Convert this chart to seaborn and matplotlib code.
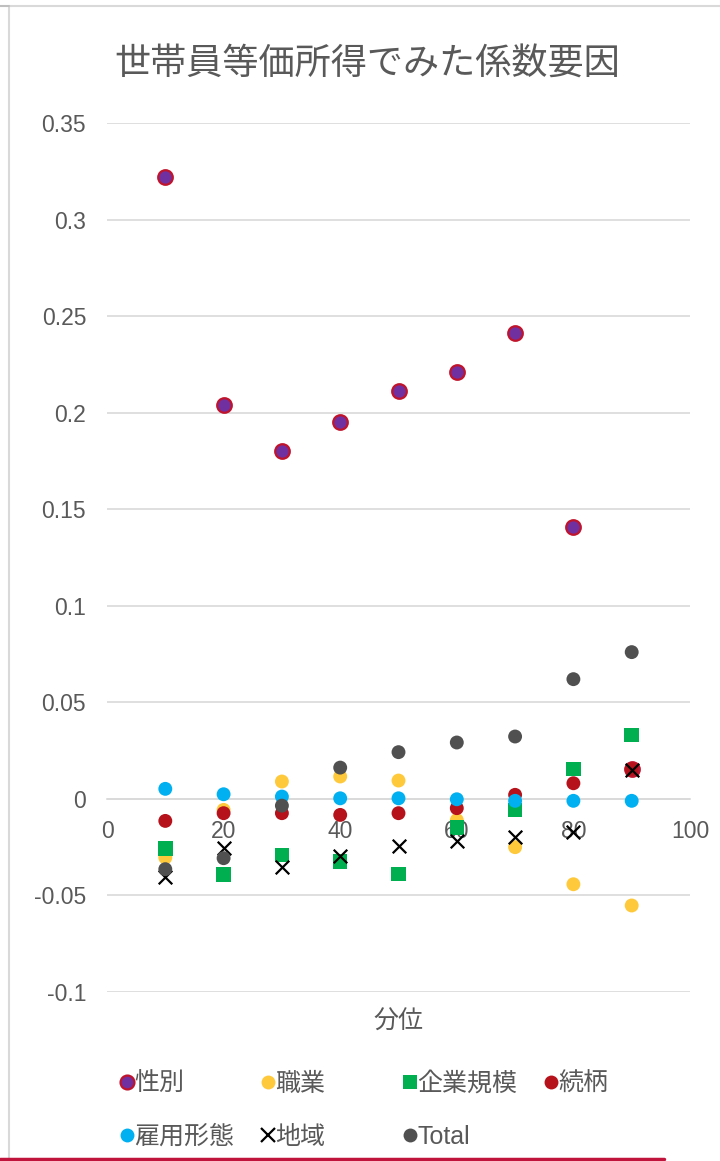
import matplotlib
matplotlib.use("Agg")
import matplotlib.pyplot as plt
from matplotlib.lines import Line2D
from matplotlib.ticker import FuncFormatter, MultipleLocator
import seaborn as sns
import pandas as pd

# ---- data -------------------------------------------------------------
deciles = [10, 20, 30, 40, 50, 60, 70, 80, 90]
gender = [0.322, 0.204, 0.180, 0.195, 0.211, 0.221, 0.241, 0.141, 0.0155]
occupation = [-0.0304, -0.0057, 0.0090, 0.0116, 0.0095, -0.0110, -0.0250, -0.0442, -0.0552]
firm_size = [-0.0257, -0.0393, -0.0290, -0.0324, -0.0390, -0.0148, -0.0057, 0.0155, 0.0331]
relation = [-0.0114, -0.0074, -0.0074, -0.0083, -0.0074, -0.0048, 0.0021, 0.0081, 0.0154]
employment = [0.0052, 0.0024, 0.0012, 0.0003, 0.0003, -0.0002, -0.0010, -0.0010, -0.0010]
region = [-0.0402, -0.0255, -0.0354, -0.0295, -0.0242, -0.0217, -0.0195, -0.0174, 0.0150]
total = [-0.0364, -0.0307, -0.0035, 0.0162, 0.0242, 0.0292, 0.0323, 0.0620, 0.0760]

series_names = ["性別", "職業", "企業規模", "続柄", "雇用形態", "地域", "Total"]
series_values = [gender, occupation, firm_size, relation, employment, region, total]

x_ticks = [0, 20, 40, 60, 80, 100]
title = "世帯員等価所得でみた係数要因"
x_label = "分位"

# ---- styles -----------------------------------------------------------
styles = {
    "性別": dict(marker="o", face="#7030A0", edge="#C0142C", s=110, lw=1.6, ms=10),
    "職業": dict(marker="o", face="#FFC93C", edge="none", s=100, lw=0, ms=10),
    "企業規模": dict(marker="s", face="#00B050", edge="none", s=110, lw=0, ms=10),
    "続柄": dict(marker="o", face="#B5121B", edge="none", s=100, lw=0, ms=10),
    "雇用形態": dict(marker="o", face="#00B0F0", edge="none", s=100, lw=0, ms=10),
    "地域": dict(marker="x", face="#000000", edge="#000000", s=95, lw=1.6, ms=9.5),
    "Total": dict(marker="o", face="#505050", edge="none", s=100, lw=0, ms=10),
}

text_color = "#595959"
grid_color = "#D9D9D9"

sns.set_theme(style="white")
plt.rcParams["font.family"] = ["Liberation Sans", "Noto Sans CJK JP", "DejaVu Sans"]

W, H = 720, 1161
fig = plt.figure(figsize=(W / 100, H / 100), dpi=100)
ax = fig.add_axes([107 / W, 1 - 992 / H, (690 - 107) / W, (992 - 123) / H])

df = pd.DataFrame(
    [(n, x, v) for n, vals in zip(series_names, series_values) for x, v in zip(deciles, vals)],
    columns=["要因", "分位", "係数"],
)

for i, name in enumerate(series_names):
    st = styles[name]
    sub = df[df["要因"] == name]
    if st["marker"] == "x":
        sns.scatterplot(data=sub, x="分位", y="係数", ax=ax, marker="x",
                        color=st["face"], s=st["s"], linewidth=st["lw"],
                        legend=False, zorder=3 + i)
    else:
        sns.scatterplot(data=sub, x="分位", y="係数", ax=ax, marker=st["marker"],
                        color=st["face"], edgecolor=st["edge"], s=st["s"],
                        linewidth=st["lw"], legend=False, zorder=3 + i)

# ---- axes -------------------------------------------------------------
ax.set_xlim(0, 100)
ax.set_ylim(-0.1, 0.35)
ax.set_xticks(x_ticks)
ax.yaxis.set_major_locator(MultipleLocator(0.05))
ax.yaxis.set_major_formatter(FuncFormatter(lambda v, p: f"{round(v, 4):g}"))

for side in ["top", "right", "left"]:
    ax.spines[side].set_visible(False)
ax.spines["bottom"].set_position(("data", 0))
ax.spines["bottom"].set_color(grid_color)
ax.spines["bottom"].set_linewidth(1.2)
ax.spines["bottom"].set_zorder(1)

ax.yaxis.grid(True, color=grid_color, linewidth=1.2)
ax.xaxis.grid(False)
ax.set_axisbelow(True)

ax.tick_params(axis="x", length=0, pad=15, labelsize=16.5, labelcolor=text_color)
ax.tick_params(axis="y", length=0, pad=15, labelsize=16.5, labelcolor=text_color)
for lab in ax.get_xticklabels():
    lab.set_zorder(2)
ax.set_xlabel("")
ax.set_ylabel("")

# ---- texts ------------------------------------------------------------
fig.text(367 / W, 1 - 65 / H, title, ha="center", va="center",
         fontsize=26, color=text_color)
fig.text(398 / W, 1 - 1022 / H, x_label, ha="center", va="center",
         fontsize=18, color=text_color)

# ---- legend -----------------------------------------------------------
legend_slots = {
    "性別": (126, 1084), "職業": (267, 1084), "企業規模": (409, 1084), "続柄": (550, 1084),
    "雇用形態": (126, 1137), "地域": (267, 1137), "Total": (409, 1137),
}
for name in series_names:
    st = styles[name]
    mx, my = legend_slots[name]
    if st["marker"] == "x":
        h = Line2D([], [], marker="x", linestyle="none", markersize=st["ms"],
                   color=st["face"], markeredgewidth=st["lw"])
    else:
        h = Line2D([], [], marker=st["marker"], linestyle="none", markersize=st["ms"],
                   markerfacecolor=st["face"],
                   markeredgecolor=st["edge"] if st["edge"] != "none" else st["face"],
                   markeredgewidth=st["lw"] if st["lw"] else 0)
    fig.legend(handles=[h], labels=[name], loc="center left",
               bbox_to_anchor=((mx - 7) / W, 1 - my / H), frameon=False,
               borderpad=0, borderaxespad=0, handlelength=0.6, handletextpad=0.0,
               fontsize=18, labelcolor=text_color)

# ---- frame lines ------------------------------------------------------
fig.add_artist(Line2D([9 / W, 9 / W], [0, 1 - 6 / H], transform=fig.transFigure,
                      color=grid_color, linewidth=1.5))
fig.add_artist(Line2D([9 / W, 1], [1 - 6 / H, 1 - 6 / H], transform=fig.transFigure,
                      color=grid_color, linewidth=1.5))
fig.add_artist(Line2D([0, 9 / W], [1 - 6 / H, 1 - 6 / H], transform=fig.transFigure,
                      color="#BFBFBF", linewidth=1.5))
fig.add_artist(Line2D([0, 664 / W], [1 - 1158.5 / H, 1 - 1158.5 / H],
                      transform=fig.transFigure, color="#C0143C", linewidth=2.5))

fig.savefig("out.png", dpi=100)
